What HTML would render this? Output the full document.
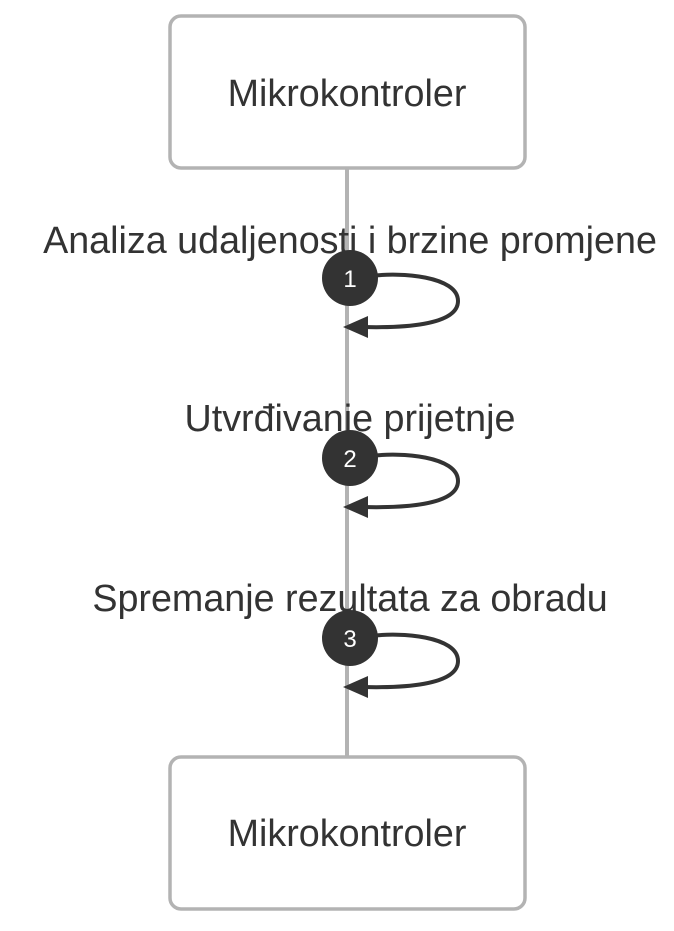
<!DOCTYPE html>
<html><head><style>body{margin:0;background:#fff}</style></head><body>
<svg width="674" height="926" xmlns="http://www.w3.org/2000/svg" font-family="Liberation Sans, Arial, sans-serif">
<line x1="347" y1="168" x2="347" y2="757" stroke="#b3b3b3" stroke-width="4"/>
<rect x="170" y="16" width="355" height="152" rx="11" fill="#fff" stroke="#b3b3b3" stroke-width="3.5"/>
<rect x="170" y="757" width="355" height="152" rx="11" fill="#fff" stroke="#b3b3b3" stroke-width="3.5"/>
<text x="347" y="106" font-size="37.7" fill="#333" text-anchor="middle">Mikrokontroler</text>
<text x="347" y="846" font-size="37.7" fill="#333" text-anchor="middle">Mikrokontroler</text>
<g fill="#333" font-size="37.7" text-anchor="middle">
<text x="350" y="253">Analiza udaljenosti i brzine promjene</text>
<text x="350" y="431">Utvrđivanje prijetnje</text>
<text x="350" y="611">Spremanje rezultata za obradu</text>
</g>
<g id="l">
<path d="M372 276 C400 272 458 276 458 301 C458 326 400 328 362 327" fill="none" stroke="#333" stroke-width="4"/>
<polygon points="343,327 368,316 368,338" fill="#333"/>
<circle cx="350" cy="278" r="28" fill="#333"/>
</g>
<use href="#l" y="180"/>
<use href="#l" y="360"/>
<g fill="#fff" font-size="24" text-anchor="middle">
<text x="350" y="287">1</text><text x="350" y="467">2</text><text x="350" y="647">3</text>
</g>
</svg>
</body></html>
